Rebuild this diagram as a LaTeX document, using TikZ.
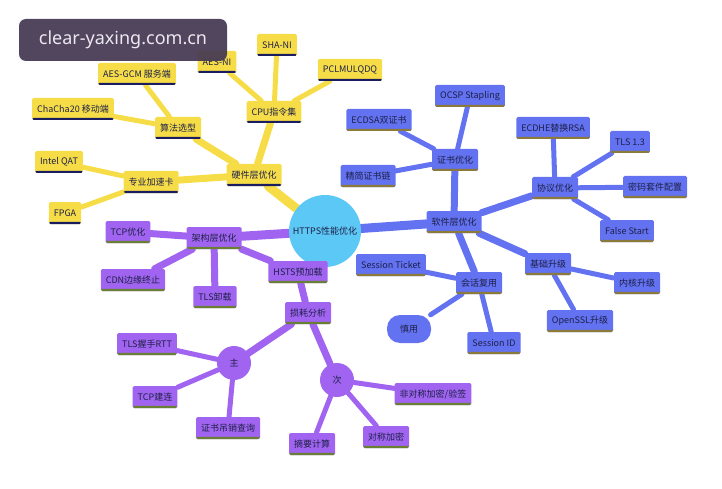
\documentclass[tikz,border=0pt]{standalone}
\usepackage{fontspec}
\setmainfont{Noto Sans CJK SC}
\newfontfamily\markfont{Noto Sans}
\usetikzlibrary{backgrounds}

\definecolor{hwfill}{RGB}{246,221,72}
\definecolor{hwedge}{RGB}{25,28,95}
\definecolor{swfill}{RGB}{98,114,240}
\definecolor{swedge}{RGB}{140,122,58}
\definecolor{arfill}{RGB}{160,100,240}
\definecolor{aredge}{RGB}{105,128,52}
\definecolor{rootfill}{RGB}{92,200,245}
\definecolor{txtdark}{RGB}{30,32,72}
\definecolor{markfill}{RGB}{72,60,84}

\tikzset{
  box/.style={rectangle, rounded corners=1.5pt, minimum height=22pt, inner xsep=5pt,
    text=txtdark, font=\fontsize{9}{10}\selectfont},
  hwbox/.style={box, fill=hwfill, path picture={\fill[hwedge] (path picture bounding box.south west) rectangle ([yshift=2.2pt]path picture bounding box.south east);}},
  swbox/.style={box, fill=swfill, path picture={\fill[swedge] (path picture bounding box.south west) rectangle ([yshift=2.2pt]path picture bounding box.south east);}},
  arbox/.style={box, fill=arfill, path picture={\fill[aredge] (path picture bounding box.south west) rectangle ([yshift=2.2pt]path picture bounding box.south east);}},
  arcirc/.style={circle, fill=arfill, minimum size=34pt, inner sep=0pt, text=txtdark, font=\fontsize{9}{10}\selectfont},
  lvlone/.style={line width=9pt, line cap=round},
  lvltwo/.style={line width=7pt, line cap=round},
  lvlthree/.style={line width=5pt, line cap=round},
}

\begin{document}
\begin{tikzpicture}[x=1pt,y=-1pt]
  \useasboundingbox (0,0) rectangle (722,489);

  \node[circle, fill=rootfill, minimum size=72pt, inner sep=0pt, text=txtdark,
    font=\fontsize{9}{10}\selectfont] (root) at (325,231) {HTTPS性能优化};

  % hardware
  \node[hwbox] (hw) at (254,175) {硬件层优化};
  \node[hwbox] (cpu) at (274,112) {CPU指令集};
  \node[hwbox] (aesni) at (217,62) {AES-NI};
  \node[hwbox] (shani) at (277,45) {SHA-NI};
  \node[hwbox] (pclmul) at (350,70) {PCLMULQDQ};
  \node[hwbox] (algo) at (178,128) {算法选型};
  \node[hwbox] (aesgcm) at (137,74) {AES-GCM 服务端};
  \node[hwbox] (chacha) at (73,109) {ChaCha20 移动端};
  \node[hwbox] (card) at (151,182) {专业加速卡};
  \node[hwbox] (qat) at (59,162) {Intel QAT};
  \node[hwbox] (fpga) at (65,213) {FPGA};

  % software
  \node[swbox] (sw) at (454,222) {软件层优化};
  \node[swbox] (cert) at (455,160) {证书优化};
  \node[swbox] (ocsp) at (470,96) {OCSP Stapling};
  \node[swbox] (ecdsa) at (379,120) {ECDSA双证书};
  \node[swbox] (chain) at (368,176) {精简证书链};
  \node[swbox] (proto) at (555,188) {协议优化};
  \node[swbox] (ecdhe) at (553,128) {ECDHE替换RSA};
  \node[swbox] (tls13) at (630,142) {TLS 1.3};
  \node[swbox] (suite) at (655,187) {密码套件配置};
  \node[swbox] (fstart) at (627,231) {False Start};
  \node[swbox] (base) at (548,264) {基础升级};
  \node[swbox] (kernel) at (637,283) {内核升级};
  \node[swbox] (openssl) at (580,321) {OpenSSL升级};
  \node[swbox] (reuse) at (479,283) {会话复用};
  \node[swbox] (ticket) at (391,265) {Session Ticket};
  \node[rectangle, rounded corners=13pt, fill=swfill, minimum width=44pt, minimum height=28pt,
    text=txtdark, font=\fontsize{9}{10}\selectfont] (careful) at (409,329) {慎用};
  \node[swbox] (sessid) at (494,343) {Session ID};

  % architecture
  \node[arbox] (arch) at (214,238) {架构层优化};
  \node[arbox] (tcpopt) at (128,232) {TCP优化};
  \node[arbox] (cdn) at (133,280) {CDN边缘终止};
  \node[arbox] (offload) at (215,297) {TLS卸载};
  \node[arbox] (hsts) at (298,272) {HSTS预加载};
  \node[arbox] (loss) at (308,313) {损耗分析};
  \node[arcirc] (major) at (234,363) {主};
  \node[arcirc] (minor) at (337,380) {次};
  \node[arbox] (rtt) at (147,344) {TLS握手RTT};
  \node[arbox] (tcpconn) at (155,397) {TCP建连};
  \node[arbox] (revoke) at (228,428) {证书吊销查询};
  \node[arbox] (digest) at (312,444) {摘要计算};
  \node[arbox] (sym) at (386,437) {对称加密};
  \node[arbox] (asym) at (433,394) {非对称加密/验签};

  \begin{scope}[on background layer]
    \draw[hwfill, lvlone] (root) -- (hw);
    \draw[hwfill, lvltwo] (hw) -- (cpu);
    \draw[hwfill, lvltwo] (hw) -- (algo);
    \draw[hwfill, lvltwo] (hw) -- (card);
    \foreach \leaf in {aesni, shani, pclmul} \draw[hwfill, lvlthree] (cpu) -- (\leaf);
    \foreach \leaf in {aesgcm, chacha} \draw[hwfill, lvlthree] (algo) -- (\leaf);
    \foreach \leaf in {qat, fpga} \draw[hwfill, lvlthree] (card) -- (\leaf);

    \draw[swfill, lvlone] (root) -- (sw);
    \foreach \mid in {cert, proto, base, reuse} \draw[swfill, lvltwo] (sw) -- (\mid);
    \foreach \leaf in {ocsp, ecdsa, chain} \draw[swfill, lvlthree] (cert) -- (\leaf);
    \foreach \leaf in {ecdhe, tls13, suite, fstart} \draw[swfill, lvlthree] (proto) -- (\leaf);
    \foreach \leaf in {kernel, openssl} \draw[swfill, lvlthree] (base) -- (\leaf);
    \foreach \leaf in {ticket, careful, sessid} \draw[swfill, lvlthree] (reuse) -- (\leaf);

    \draw[arfill, lvlone] (root) -- (arch);
    \foreach \mid in {tcpopt, cdn, offload, hsts} \draw[arfill, lvltwo] (arch) -- (\mid);
    \draw[arfill, lvltwo] (hsts) -- (loss);
    \draw[arfill, lvltwo] (loss) -- (major);
    \draw[arfill, lvltwo] (loss) -- (minor);
    \foreach \leaf in {rtt, tcpconn, revoke} \draw[arfill, lvlthree] (major) -- (\leaf);
    \foreach \leaf in {digest, sym, asym} \draw[arfill, lvlthree] (minor) -- (\leaf);
  \end{scope}

  % watermark
  \node[rectangle, rounded corners=7pt, fill=markfill, fill opacity=0.95, text opacity=1,
    minimum width=208pt, minimum height=42pt, text={rgb,255:red,236;green,232;blue,242},
    font=\markfont\fontsize{18}{20}\selectfont] (mark) at (123,40) {clear-yaxing.com.cn};
\end{tikzpicture}
\end{document}
